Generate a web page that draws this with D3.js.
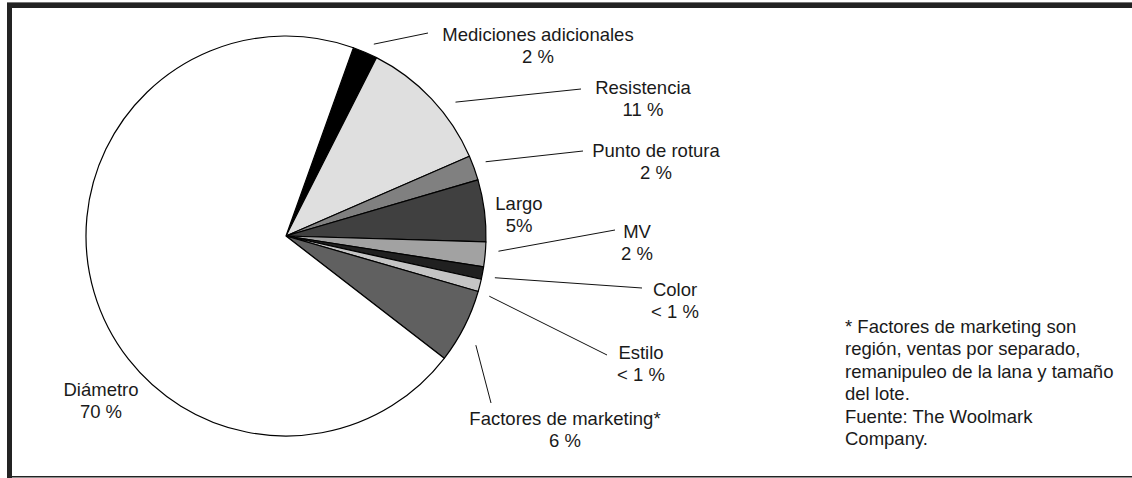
<html>
<script src="https://d3js.org/d3.v7.min.js"></script>
<style>
body { margin: 0; background: white; }
text { font-family: "Liberation Sans", Arial, sans-serif; font-size: 18.5px; fill: #1a1a1a; }
</style>
<body>
<svg width="1132" height="478"></svg>
<script>
// slices, clockwise from the black one
var categories = ["Mediciones adicionales", "Resistencia", "Punto de rotura", "Largo", "MV",
                  "Color", "Estilo", "Factores de marketing*", "Diámetro"];
var values = [2, 11, 2, 5, 2, 1, 1, 6, 70];
var valueLabels = ["2 %", "11 %", "2 %", "5%", "2 %", "< 1 %", "< 1 %", "6 %", "70 %"];
var fills = ["#000000", "#dfdfdf", "#808080", "#404040", "#a2a2a2", "#202020", "#c4c4c4", "#606060", "#ffffff"];

var footnote = ["* Factores de marketing son", "región, ventas por separado,",
                "remanipuleo de la lana y tamaño", "del lote.", "Fuente: The Woolmark", "Company."];

// label placement: text centre x, first baseline y, leader end, leader start nudge (deg) and radius
var labelLayout = [
  {tx: 538, ty: 41,  lx: 428, ly: 33,  nudge: 1.3,  r: 211},
  {tx: 643, ty: 94,  lx: 581, ly: 89,  nudge: 5.0,  r: 216},
  {tx: 656, ty: 157, lx: 583, ly: 151, nudge: -0.5, r: 213},
  {tx: 519, ty: 210, lx: null},
  {tx: 637, ty: 238, lx: 615, ly: 230, nudge: -1.2, r: 213},
  {tx: 675, ty: 296, lx: 642, ly: 288, nudge: 0.6,  r: 213},
  {tx: 641, ty: 359, lx: 607, ly: 355, nudge: 2.2,  r: 212},
  {tx: 565, ty: 425, lx: 491, ly: 403, nudge: 3.0,  r: 219},
  {tx: 101, ty: 396, lx: null}
];

var svg = d3.select("svg");
var cx = 286, cy = 236, radius = 200;
var start = 19.7 * Math.PI / 180;

// frame
svg.append("rect").attr("x", 7).attr("y", 2).attr("width", 1125).attr("height", 1).style("fill", "#777");
svg.append("rect").attr("x", 7).attr("y", 3).attr("width", 1125).attr("height", 5).style("fill", "#232323");
svg.append("rect").attr("x", 7).attr("y", 3).attr("width", 5).attr("height", 475).style("fill", "#232323");
svg.append("rect").attr("x", 7).attr("y", 476).attr("width", 1125).attr("height", 1.5).style("fill", "#232323");

var pie = d3.pie().sort(null).value(function(d) {return d;})
  .startAngle(start).endAngle(start + 2 * Math.PI);
var arcs = pie(values);
var arc = d3.arc().innerRadius(0).outerRadius(radius);

var g = svg.append("g").attr("transform", "translate(" + cx + "," + cy + ")");

g.selectAll("path")
.data(arcs)
.enter()
.append("path")
.attr("d", arc)
.style("fill", function(d, i) {return fills[i];})
.style("stroke", "#000")
.style("stroke-width", 1.2)
.style("stroke-linejoin", "round");

// leader lines
arcs.forEach(function(d, i) {
  var L = labelLayout[i];
  if (L.lx === null) return;
  var a = (d.startAngle + d.endAngle) / 2 + L.nudge * Math.PI / 180;
  svg.append("line")
  .attr("x1", cx + L.r * Math.sin(a))
  .attr("y1", cy - L.r * Math.cos(a))
  .attr("x2", L.lx)
  .attr("y2", L.ly)
  .style("stroke", "#111")
  .style("stroke-width", 1);
});

// labels
categories.forEach(function(c, i) {
  var L = labelLayout[i];
  var t = svg.append("text").attr("text-anchor", "middle");
  t.append("tspan").attr("x", L.tx).attr("y", L.ty).text(c);
  t.append("tspan").attr("x", L.tx).attr("y", L.ty + 22).text(valueLabels[i]);
});

// note
svg.append("text")
.selectAll("tspan")
.data(footnote)
.enter()
.append("tspan")
.attr("x", 845)
.attr("y", function(d, i) {return 333 + i * 22.4;})
.text(function(d) {return d;});
</script>
</body>
</html>
